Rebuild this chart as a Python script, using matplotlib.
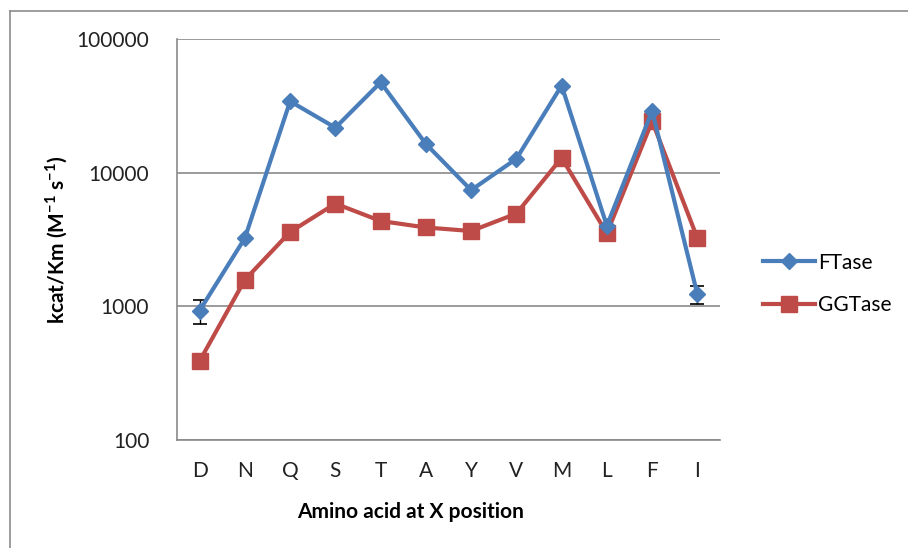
import matplotlib
matplotlib.use("Agg")
import matplotlib.pyplot as plt
from matplotlib.lines import Line2D

categories = ["D", "N", "Q", "S", "T", "A", "Y", "V", "M", "L", "F", "I"]
ftase = [930, 3240, 34200, 21700, 47400, 16400, 7400, 12700, 44800, 4000, 29000, 1230]
ggtase = [390, 1580, 3600, 5870, 4350, 3890, 3660, 4940, 12900, 3520, 24300, 3240]
ftase_err = [190, 0, 0, 0, 0, 0, 0, 0, 0, 0, 0, 180]
yticks = [100, 1000, 10000, 100000]
ytick_labels = ["100", "1000", "10000", "100000"]

plt.rcParams['font.family'] = ['Lato', 'DejaVu Sans']
plt.rcParams['mathtext.fontset'] = 'custom'
plt.rcParams['mathtext.rm'] = 'Lato'
plt.rcParams['mathtext.bf'] = 'Lato:bold'

W, H = 908, 548
fig = plt.figure(figsize=(W / 100, H / 100), dpi=100)
ax = fig.add_axes([177 / W, 1 - 440 / H, (720 - 177) / W, (440 - 39) / H])

blue = '#4A7EBB'
red = '#BE4B48'
x = list(range(len(categories)))

ax.errorbar(x, ftase, yerr=ftase_err, fmt='none', ecolor='black', elinewidth=1.0,
            capsize=5, capthick=1.2, zorder=2)
ax.plot(x, ftase, color=blue, lw=3, marker='D', ms=8.5, mec=blue, mfc=blue,
        label='FTase', zorder=4)
ax.plot(x, ggtase, color=red, lw=3, marker='s', ms=12, mec=red, mfc=red,
        label='GGTase', zorder=3)

ax.set_yscale('log')
ax.set_ylim(100, 100000)
ax.set_xlim(-0.5, len(categories) - 0.5)
ax.set_yticks(yticks)
ax.set_yticklabels(ytick_labels)
ax.yaxis.set_minor_locator(matplotlib.ticker.NullLocator())
ax.set_xticks(x)
ax.set_xticklabels(categories)
ax.tick_params(axis='both', length=0, labelsize=15, colors='#222222')
ax.tick_params(axis='y', pad=20)
ax.tick_params(axis='x', pad=15)

ax.grid(axis='y', color='#8a8a8a', lw=1.2)
ax.set_axisbelow(True)
for s in ['top', 'right']:
    ax.spines[s].set_visible(False)
for s in ['left', 'bottom']:
    ax.spines[s].set_color('#8a8a8a')
    ax.spines[s].set_linewidth(1.2)

fig.text(57 / W, 1 - 240 / H, r'kcat/Km (M$^{\mathbf{-1}}$ s$^{\mathbf{-1}}$)',
         rotation=90, ha='center', va='center', fontsize=15, fontweight='bold')
fig.text(411 / W, 1 - 512 / H, 'Amino acid at X position', ha='center', va='center',
         fontsize=15, fontweight='bold')

leg = fig.legend(loc='center left', bbox_to_anchor=(744 / W, 1 - 284 / H), frameon=False,
                 fontsize=15, handlelength=2.5, labelspacing=1.1, handletextpad=0.15)

# outer chart border (top and left visible)
fig.add_artist(Line2D([10 / W, 10 / W], [0, 1 - 11 / H], transform=fig.transFigure,
                      color='#8c8c8c', lw=1.2))
fig.add_artist(Line2D([10 / W, 1], [1 - 11 / H, 1 - 11 / H], transform=fig.transFigure,
                      color='#8c8c8c', lw=1.2))

fig.savefig('out.png', dpi=100)
